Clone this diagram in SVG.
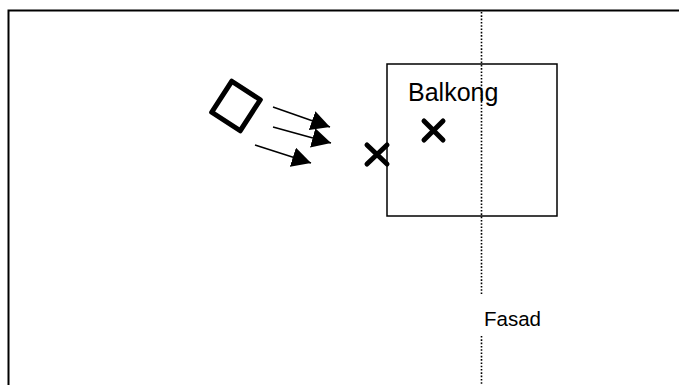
<svg xmlns="http://www.w3.org/2000/svg" width="679" height="385" viewBox="0 0 679 385">
  <style>
    .frame { fill: none; stroke: #000; stroke-width: 2; }
    .box { fill: none; stroke: #000; stroke-width: 1.5; }
    .facade { fill: none; stroke: #000; stroke-width: 1.6; stroke-dasharray: 1.6 1.7; }
    .mark { fill: none; stroke: #000; stroke-width: 5; stroke-linecap: round; }
    .source { fill: none; stroke: #000; stroke-width: 5; stroke-linejoin: round; }
    .ray { fill: none; stroke: #000; stroke-width: 1.5; marker-end: url(#head); }
    .label { font-family: "Liberation Sans", Arial, sans-serif; fill: #000; }
  </style>
  <defs>
    <marker id="head" viewBox="0 0 19 20" refX="19" refY="10" markerWidth="19" markerHeight="20" markerUnits="userSpaceOnUse" orient="auto">
      <path d="M0,0 L19,10 L0,20 Z" fill="#000"/>
    </marker>
  </defs>

  <!-- page frame: top and left edges only -->
  <path class="frame" d="M8.5,385 V10.5 H679"/>

  <!-- facade line -->
  <g id="facade">
    <path class="facade" d="M481.5,12 V295 M481.5,336 V385"/>
    <text class="label" x="484" y="326" font-size="20.5">Fasad</text>
  </g>

  <!-- balcony -->
  <g id="balkong">
    <rect class="box" x="387" y="64" width="170" height="152"/>
    <text class="label" x="408" y="101" font-size="25">Balkong</text>
  </g>

  <!-- measurement points -->
  <g id="point-balcony">
    <path class="mark" d="M424,121 L443,140 M443,121 L424,140"/>
  </g>
  <g id="point-facade">
    <path class="mark" d="M367,145 L387,164 M387,145 L367,164"/>
  </g>

  <!-- sound source -->
  <g id="source">
    <rect class="source" x="-17" y="-18.5" width="34" height="37" transform="translate(236 106) rotate(33)"/>
  </g>

  <!-- sound rays -->
  <g id="connectors">
    <line class="ray" x1="273" y1="107" x2="330" y2="127"/>
    <line class="ray" x1="273" y1="127" x2="331" y2="143"/>
    <line class="ray" x1="255" y1="145" x2="311" y2="163"/>
  </g>
</svg>
